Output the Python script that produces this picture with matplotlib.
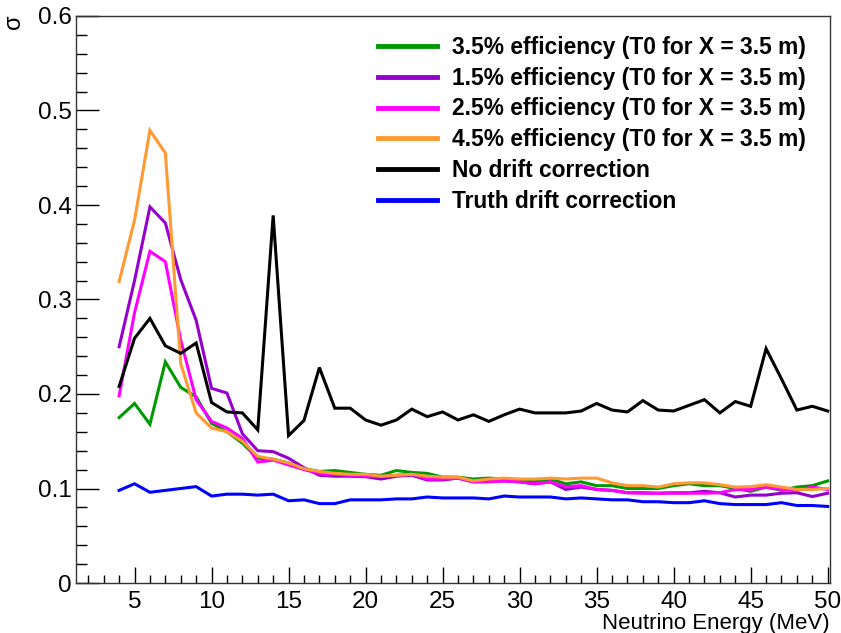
import numpy as np
import matplotlib
matplotlib.use("Agg")
import matplotlib.pyplot as plt
from matplotlib.ticker import MultipleLocator

plt.rcParams['font.family'] = ['Liberation Sans', 'DejaVu Sans']

energy = list(range(4, 51))

eff35 = [0.175, 0.190, 0.168, 0.234, 0.207, 0.197, 0.169, 0.160, 0.148, 0.132,
         0.131, 0.127, 0.121, 0.118, 0.119, 0.117, 0.115, 0.114, 0.119, 0.117,
         0.116, 0.112, 0.112, 0.110, 0.111, 0.110, 0.109, 0.108, 0.110, 0.105,
         0.107, 0.103, 0.103, 0.100, 0.100, 0.100, 0.103, 0.105, 0.103, 0.103,
         0.100, 0.097, 0.1015, 0.098, 0.1015, 0.103, 0.108]

eff15 = [0.250, 0.320, 0.398, 0.381, 0.321, 0.278, 0.206, 0.201, 0.158, 0.140,
         0.139, 0.132, 0.122, 0.114, 0.113, 0.113, 0.1125, 0.110, 0.113, 0.114,
         0.109, 0.109, 0.111, 0.107, 0.108, 0.108, 0.107, 0.105, 0.107, 0.099,
         0.1015, 0.099, 0.098, 0.0955, 0.0955, 0.095, 0.0955, 0.0955, 0.097, 0.0955,
         0.091, 0.093, 0.093, 0.095, 0.0955, 0.0915, 0.095]

eff25 = [0.198, 0.286, 0.351, 0.340, 0.257, 0.194, 0.171, 0.164, 0.153, 0.128,
         0.130, 0.125, 0.120, 0.116, 0.115, 0.114, 0.113, 0.1125, 0.114, 0.115,
         0.110, 0.110, 0.111, 0.107, 0.107, 0.108, 0.107, 0.105, 0.107, 0.102,
         0.103, 0.099, 0.098, 0.0955, 0.095, 0.095, 0.095, 0.095, 0.095, 0.0955,
         0.099, 0.099, 0.1015, 0.099, 0.098, 0.1015, 0.099]

eff45 = [0.319, 0.384, 0.479, 0.455, 0.232, 0.180, 0.164, 0.160, 0.150, 0.134,
         0.131, 0.127, 0.121, 0.118, 0.116, 0.115, 0.115, 0.113, 0.114, 0.115,
         0.113, 0.112, 0.112, 0.108, 0.110, 0.111, 0.110, 0.110, 0.111, 0.110,
         0.111, 0.111, 0.106, 0.103, 0.103, 0.1015, 0.105, 0.106, 0.106, 0.104,
         0.1015, 0.102, 0.104, 0.1015, 0.099, 0.099, 0.100]

no_corr = [0.208, 0.259, 0.280, 0.251, 0.243, 0.254, 0.191, 0.181, 0.180, 0.162,
           0.389, 0.156, 0.172, 0.228, 0.185, 0.185, 0.1725, 0.167, 0.1725, 0.184,
           0.176, 0.181, 0.1725, 0.178, 0.171, 0.178, 0.184, 0.180, 0.180, 0.180,
           0.182, 0.190, 0.183, 0.181, 0.193, 0.183, 0.182, 0.188, 0.194, 0.180,
           0.192, 0.187, 0.248, 0.216, 0.183, 0.187, 0.182]

truth = [0.098, 0.105, 0.096, 0.098, 0.100, 0.102, 0.092, 0.094, 0.094, 0.093,
         0.094, 0.087, 0.088, 0.084, 0.084, 0.088, 0.088, 0.088, 0.089, 0.089,
         0.091, 0.090, 0.090, 0.090, 0.089, 0.092, 0.091, 0.091, 0.091, 0.089,
         0.090, 0.089, 0.088, 0.088, 0.086, 0.086, 0.085, 0.085, 0.087, 0.084,
         0.083, 0.083, 0.083, 0.085, 0.082, 0.082, 0.081]

series = [
    ("3.5% efficiency (T0 for X = 3.5 m)", eff35, "#009900"),
    ("1.5% efficiency (T0 for X = 3.5 m)", eff15, "#9400cc"),
    ("2.5% efficiency (T0 for X = 3.5 m)", eff25, "#ff00ff"),
    ("4.5% efficiency (T0 for X = 3.5 m)", eff45, "#ff9933"),
    ("No drift correction", no_corr, "#000000"),
    ("Truth drift correction", truth, "#0000ff"),
]

W, H = 841, 633
fig = plt.figure(figsize=(W / 100, H / 100), dpi=100)
ax = fig.add_axes([76 / W, 1 - 583 / H, (830 - 76) / W, (583 - 16) / H])

for label, vals, col in series:
    ax.plot(energy, vals, color=col, lw=2.2, label=label, solid_joinstyle='miter')

ax.set_xlim(1.2, 50.15)
ax.set_ylim(0, 0.6)
ax.xaxis.set_major_locator(MultipleLocator(5))
ax.xaxis.set_minor_locator(MultipleLocator(1))
ax.yaxis.set_major_locator(MultipleLocator(0.1))
ax.yaxis.set_minor_locator(MultipleLocator(0.02))
ax.xaxis.set_major_formatter(plt.FuncFormatter(lambda v, p: "%d" % v))
ax.yaxis.set_major_formatter(plt.FuncFormatter(lambda v, p: "0" if abs(v) < 1e-9 else "%g" % v))

ax.tick_params(axis='y', which='major', direction='in', length=16.5, width=1, labelsize=17.5, pad=3, right=False)
ax.tick_params(axis='y', which='minor', direction='in', length=8, width=1, right=False)
ax.tick_params(axis='x', which='major', direction='in', length=11.5, width=1, labelsize=17.5, pad=5.5, top=False)
ax.tick_params(axis='x', which='minor', direction='in', length=5.8, width=1, top=False)
for s in ax.spines.values():
    s.set_linewidth(1)
    s.set_color('#333333')

fig.text(830 / W, 1 - 628.5 / H, "Neutrino Energy (MeV)", ha='right', va='baseline', fontsize=16)
fig.text(14 / W, 1 - 22 / H, "σ", rotation=90, ha='center', va='center', fontsize=17)

leg = ax.legend(loc='upper left', bbox_to_anchor=(378 / W, 1 - 36 / H), bbox_transform=fig.transFigure,
                frameon=False, prop={'weight': 'bold', 'size': 16.4}, handlelength=2.6,
                handletextpad=0.63, labelspacing=0.34, borderpad=0, borderaxespad=0)
for h in leg.get_lines():
    h.set_linewidth(3.5)

fig.savefig("out.png", dpi=100)
